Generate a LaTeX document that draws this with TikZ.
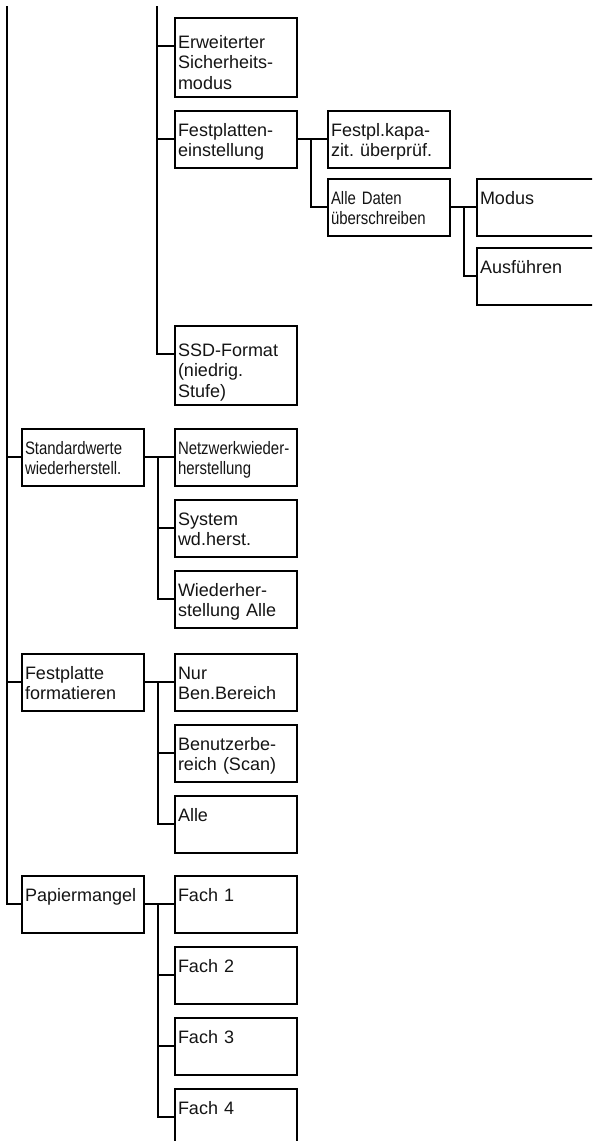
\documentclass[tikz,border=0pt]{standalone}
\usepackage{fontspec}
\setmainfont{Liberation Sans}
\newfontfamily\schmal[FakeStretch=0.83]{Liberation Sans}
\usetikzlibrary{positioning}
\frenchspacing
\newlength{\abzw}
\setlength{\abzw}{13pt}
\definecolor{linie}{RGB}{0,0,0}
\definecolor{schrift}{RGB}{20,20,20}
\tikzset{
	kasten/.style={draw=linie,line width=2pt,text=schrift,align=left,
		text width=116pt,inner xsep=3pt,inner ysep=0pt,
		font=\fontsize{18}{20.5}\selectfont,text height=25pt,text depth=32pt},
	hoch/.style={kasten,text height=30pt,text depth=49pt},
	eng/.style={font={\schmal\fontsize{18}{20.5}\selectfont}},
	verb/.style={draw=linie,line width=2pt},
}
% Verzweigung: Elternknoten -> Liste der Kinder
\newcommand{\Ast}[2]{%
	\foreach \k in {#2}{%
		\draw[verb] ([yshift=-29pt]#1.north east) -- ++(\abzw,0) |- ([yshift=-29pt]\k.north west);
	}%
}
% Stamm von oben -> Liste der Kinder
\newcommand{\Stamm}[2]{%
	\foreach \k in {#2}{%
		\draw[verb] (#1) |- ([yshift=-29pt]\k.north west);
	}%
}

\begin{document}
\begin{tikzpicture}[x=1pt,y=-1pt]
	\useasboundingbox (0,0) rectangle (592,1141);
	\clip (0,0) rectangle (592,1141);
	
	% Stämme (vom oberen Rand)
	\coordinate (stamm1) at (7,6);
	\coordinate (stamm2) at (157,6);
	
	% --- Ebene 1 ---
	\node[kasten,eng,anchor=north west] (std) at (21,428) {Standardwerte\\wiederherstell.};
	\node[kasten,anchor=north west] (fmt) at (21,653) {Festplatte\\formatieren};
	\node[kasten,anchor=north west] (pap) at (21,875) {Papiermangel};
	
	% --- Ebene 2 ---
	\node[hoch,anchor=north west] (esm) at (174,17) {Erweiterter\\Sicherheits-\\modus};
	\node[kasten,below=12pt of esm] (hdd) {Festplatten-\\einstellung};
	\node[hoch,anchor=north west] (ssd) at (174,325) {SSD-Format\\(niedrig.\\Stufe)};
	
	\node[kasten,eng,right=29pt of std] (net) {Netzwerkwieder-\\herstellung};
	\node[kasten,below=12pt of net] (sys) {System\\wd.herst.};
	\node[kasten,below=12pt of sys] (alles) {Wiederher-\\stellung Alle};
	
	\node[kasten,right=29pt of fmt] (nur) {Nur\\Ben.Bereich};
	\node[kasten,below=12pt of nur] (ben) {Benutzerbe-\\reich (Scan)};
	\node[kasten,below=12pt of ben] (alle) {Alle};
	
	\node[kasten,right=29pt of pap] (fach1) {Fach 1};
	\node[kasten,below=12pt of fach1] (fach2) {Fach 2};
	\node[kasten,below=12pt of fach2] (fach3) {Fach 3};
	\node[kasten,below=12pt of fach3] (fach4) {Fach 4};
	
	% --- Ebene 3 und 4 ---
	\node[kasten,right=29pt of hdd] (kap) {Festpl.kapa-\\zit. überprüf.};
	\node[kasten,eng,below=9pt of kap] (ovw) {Alle Daten\\überschreiben};
	\node[kasten,right=25pt of ovw] (mod) {Modus};
	\node[kasten,below=10pt of mod] (aus) {Ausführen};
	
	% --- Verbindungen ---
	\Stamm{stamm1}{std,fmt,pap}
	\Stamm{stamm2}{esm,hdd,ssd}
	\Ast{std}{net,sys,alles}
	\Ast{fmt}{nur,ben,alle}
	\Ast{pap}{fach1,fach2,fach3,fach4}
	\Ast{hdd}{kap,ovw}
	\Ast{ovw}{mod,aus}
	
\end{tikzpicture}
\end{document}
